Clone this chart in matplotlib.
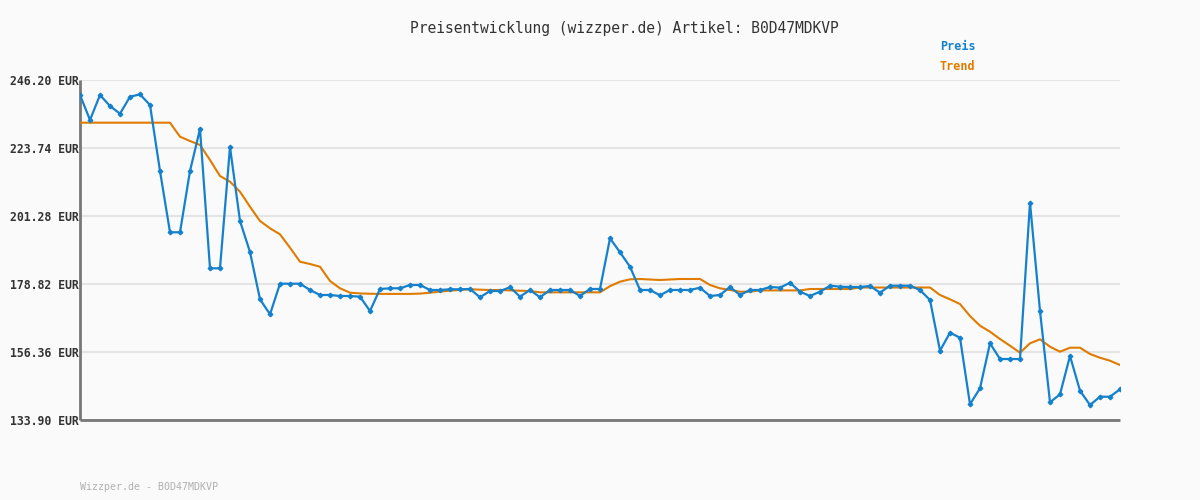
import numpy as np
import matplotlib
matplotlib.use("Agg")
import matplotlib.pyplot as plt

# Preisverlauf (EUR), ein Punkt pro Messung
preis = [
    241.25, 232.99, 241.25, 237.61, 235.07, 240.68, 241.45, 237.94, 216.14, 195.90,
    195.90, 216.14, 230.02, 184.00, 184.00, 224.07, 199.63, 189.39, 173.77, 168.81,
    178.92, 178.92, 178.92, 176.84, 175.19, 175.19, 174.86, 174.86, 174.63, 169.90,
    177.17, 177.40, 177.40, 178.49, 178.49, 176.84, 176.84, 177.07, 177.07, 177.17,
    174.43, 176.51, 176.51, 177.73, 174.63, 176.84, 174.43, 176.84, 176.84, 176.84,
    174.86, 177.17, 177.17, 193.91, 189.29, 184.53, 176.84, 176.84, 175.09, 176.84,
    176.84, 176.84, 177.60, 174.86, 175.19, 177.83, 175.19, 176.84, 176.84, 177.83,
    177.60, 179.25, 176.28, 174.86, 176.28, 178.26, 177.93, 177.83, 177.83, 178.16,
    175.95, 178.26, 178.26, 178.26, 176.84, 173.53, 156.79, 162.73, 161.08, 139.09,
    144.37, 159.23, 154.04, 154.04, 154.04, 205.67, 169.90, 139.74, 142.39, 155.04,
    143.58, 138.85, 141.59, 141.59, 144.04,
]

trend = [
    232.10, 232.10, 232.10, 232.10, 232.10, 232.10, 232.10, 232.10, 232.10, 232.10,
    227.47, 226.05, 224.73, 219.78, 214.49, 212.61, 209.30, 204.35, 199.63, 197.22,
    195.23, 190.81, 186.18, 185.42, 184.53, 179.81, 177.40, 175.95, 175.70, 175.60,
    175.55, 175.55, 175.55, 175.55, 175.65, 175.95, 176.30, 176.60, 176.90, 177.07,
    176.95, 176.84, 176.84, 176.70, 176.60, 176.50, 176.07, 176.07, 176.07, 176.07,
    176.07, 176.07, 176.07, 178.10, 179.58, 180.37, 180.47, 180.30, 180.14, 180.30,
    180.47, 180.47, 180.47, 178.49, 177.40, 176.84, 176.28, 176.28, 176.70, 176.70,
    176.70, 176.70, 176.70, 177.17, 177.17, 177.17, 177.17, 177.17, 177.66, 177.66,
    177.66, 177.66, 177.66, 177.66, 177.66, 177.66, 175.19, 173.76, 172.21, 168.24,
    165.05, 163.06, 160.65, 158.44, 156.13, 159.23, 160.55, 158.11, 156.46, 157.78,
    157.78, 155.70, 154.47, 153.48, 152.07,
]

y_ticks = [133.90, 156.36, 178.82, 201.28, 223.74, 246.20]
artikel = "B0D47MDKVP"

blau = "#1581cd"
orange = "#e07b00"
mono = ["DejaVu Sans Mono"]

fig = plt.figure(figsize=(12, 5), dpi=100, facecolor="#fafafa")
ax = fig.add_axes([80 / 1200, 1 - 420 / 500, 1040 / 1200, 340 / 500])
ax.set_facecolor("#fafafa")

x = np.arange(len(preis))
ax.plot(x, trend, color=orange, lw=1.5, zorder=3)
ax.plot(x, preis, color=blau, lw=1.6, marker="D", ms=2.3, zorder=4)

ax.set_xlim(0, len(preis) - 1)
ax.set_ylim(y_ticks[0], y_ticks[-1])
ax.set_yticks(y_ticks)
ax.set_yticklabels([f"{v:.2f} EUR" for v in y_ticks], family=mono,
                   fontsize=8.3, fontweight="bold", color="#333333")
ax.set_xticks([])
ax.tick_params(axis="y", length=0, pad=1)
ax.grid(axis="y", color="#e4e4e4", lw=1.5)
ax.set_axisbelow(True)

for s in ("top", "right"):
    ax.spines[s].set_visible(False)
for s in ("left", "bottom"):
    ax.spines[s].set_color("#777777")
    ax.spines[s].set_linewidth(2)
    ax.spines[s].set_capstyle("butt")

fig.text(624 / 1200, 1 - 28 / 500, f"Preisentwicklung (wizzper.de) Artikel: {artikel}",
         ha="center", va="center", family=mono, fontsize=10.5, color="#333333")
fig.text(940 / 1200, 1 - 47 / 500, "Preis", ha="left", va="center",
         family=mono, fontsize=8.5, fontweight="bold", color=blau)
fig.text(940 / 1200, 1 - 67 / 500, "Trend", ha="left", va="center",
         family=mono, fontsize=8.5, fontweight="bold", color=orange)
fig.text(80 / 1200, 1 - 487 / 500, f"Wizzper.de - {artikel}", ha="left", va="center",
         family=mono, fontsize=7.2, color="#b0b0b0")

fig.savefig("out.png", dpi=100, facecolor=fig.get_facecolor())
